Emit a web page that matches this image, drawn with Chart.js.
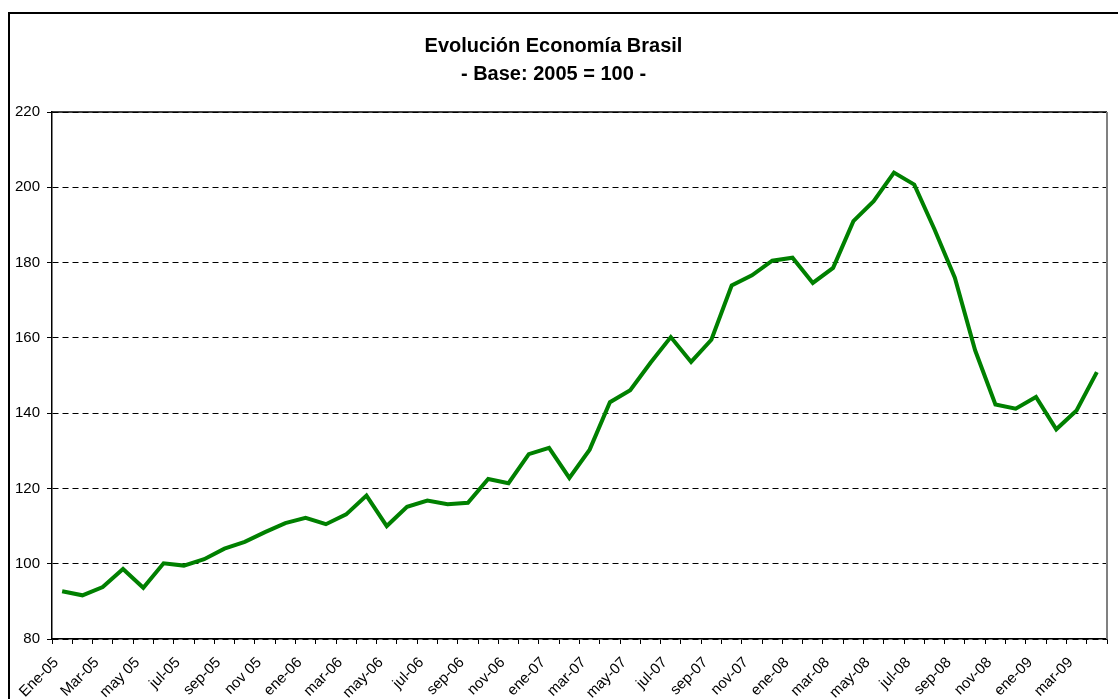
<!DOCTYPE html>
<html>
<head>
<meta charset="utf-8">
<script src="https://cdn.jsdelivr.net/npm/chart.js@4.4.1/dist/chart.umd.min.js"></script>
<style>
  html, body { margin: 0; padding: 0; background: #fff; }
  #wrap { position: relative; width: 1118px; height: 699px; overflow: hidden; }
  #frame { position: absolute; left: 8px; top: 12px; width: 1200px; height: 800px;
           border-left: 2px solid #000; border-top: 2px solid #000; }
  #chart { position: absolute; left: 0; top: 0; }
</style>
</head>
<body>
<div id="wrap">
  <div id="frame"></div>
  <canvas id="chart" width="1118" height="699"></canvas>
</div>
<script>
// ============================================
// DATA
// ============================================

const titleLines = ['Evolución Economía Brasil', '- Base: 2005 = 100 -'];

// one entry per month, only every second label is printed on the axis
const months = [
  'Ene-05', 'feb-05', 'Mar-05', 'abr-05', 'may 05', 'jun-05', 'jul-05', 'ago-05', 'sep-05', 'oct-05', 'nov 05', 'dic-05',
  'ene-06', 'feb-06', 'mar-06', 'abr-06', 'may-06', 'jun-06', 'jul-06', 'ago-06', 'sep-06', 'oct-06', 'nov-06', 'dic-06',
  'ene-07', 'feb-07', 'mar-07', 'abr-07', 'may-07', 'jun-07', 'jul-07', 'ago-07', 'sep-07', 'oct-07', 'nov-07', 'dic-07',
  'ene-08', 'feb-08', 'mar-08', 'abr-08', 'may-08', 'jun-08', 'jul-08', 'ago-08', 'sep-08', 'oct-08', 'nov-08', 'dic-08',
  'ene-09', 'feb-09', 'mar-09', 'abr-09'
];

const indexValues = [
  92.7, 91.6, 93.8, 98.6, 93.6, 100.1, 99.5, 101.2, 104.0, 105.8, 108.4, 110.8,
  112.2, 110.5, 113.1, 118.1, 110.0, 115.1, 116.8, 115.8, 116.2, 122.5, 121.4, 129.1,
  130.8, 122.8, 130.3, 142.9, 146.1, 153.4, 160.2, 153.6, 159.5, 173.9, 176.6, 180.5,
  181.3, 174.6, 178.6, 191.0, 196.3, 203.9, 200.7, 188.8, 176.0, 156.7, 142.3, 141.2,
  144.3, 135.7, 140.7, 150.9
];

const yMin  = 80;
const yMax  = 220;
const yStep = 20;

// ============================================
// CHART
// ============================================

const FONT = "'Liberation Sans', Arial, sans-serif";

// solid top edge and grey right edge of the plot area
const plotFrame = {
  id: 'plotFrame',
  beforeDatasetsDraw(chart) {
    const { ctx, chartArea: a } = chart;
    ctx.save();
    ctx.lineWidth = 1.5;
    ctx.strokeStyle = '#000';
    ctx.beginPath();
    ctx.moveTo(a.left, a.top);
    ctx.lineTo(a.right, a.top);
    ctx.stroke();
    ctx.strokeStyle = '#808080';
    ctx.lineWidth = 2;
    ctx.beginPath();
    ctx.moveTo(a.right, a.top);
    ctx.lineTo(a.right, a.bottom);
    ctx.stroke();
    ctx.restore();
  }
};

new Chart(document.getElementById('chart'), {
  type: 'line',
  data: {
    labels: months,
    datasets: [{
      label: 'Brasil',
      data: indexValues,
      borderColor: '#008000',
      borderWidth: 4,
      pointRadius: 0,
      tension: 0,
      fill: false
    }]
  },
  options: {
    responsive: false,
    animation: false,
    layout: { padding: { left: 0, right: 11, top: 0, bottom: 0 } },
    plugins: {
      legend: { display: false },
      tooltip: { enabled: false },
      title: {
        display: true,
        text: titleLines,
        color: '#000',
        font: { family: FONT, size: 20, weight: 'bold', lineHeight: 1.4 },
        padding: { top: 32, bottom: 24 }
      }
    },
    scales: {
      x: {
        offset: true,
        afterFit: s => { s.height = 60; },
        grid: { offset: true, drawOnChartArea: false, drawTicks: true, tickLength: 5, color: '#000' },
        border: { display: true, color: '#000', width: 1.5 },
        ticks: {
          autoSkip: false,
          minRotation: 45, maxRotation: 45,
          padding: 4,
          color: '#000',
          font: { family: FONT, size: 15 },
          // trailing spaces pull the label end back from the category centre, as Excel does
          callback: (v, i) => i % 2 === 0 ? months[i] + '  ' : ''
        }
      },
      y: {
        min: yMin, max: yMax,
        afterFit: s => { s.width = 52; },
        grid: { color: '#000', lineWidth: 1, tickLength: 5, tickColor: '#000' },
        border: { display: true, color: '#000', width: 1.5, dash: [6, 4] },
        ticks: {
          stepSize: yStep,
          padding: 7,
          color: '#000',
          font: { family: FONT, size: 15 }
        }
      }
    }
  },
  plugins: [plotFrame]
});
</script>
</body>
</html>
